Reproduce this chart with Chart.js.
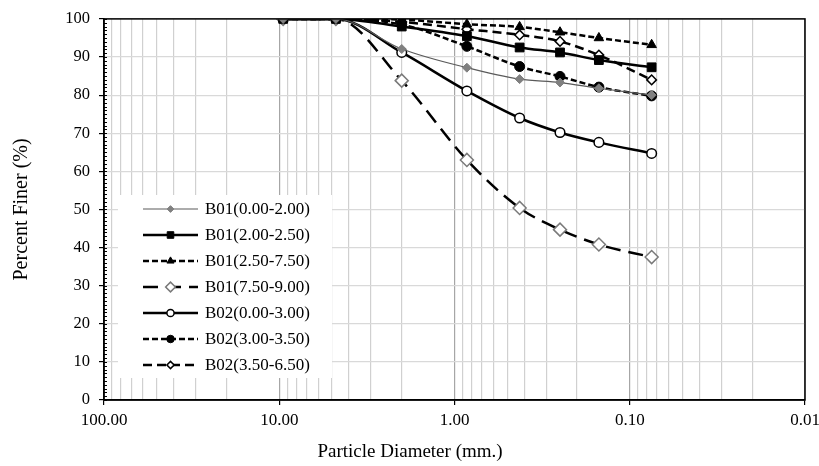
<!DOCTYPE html>
<html>
<head>
<meta charset="utf-8">
<script src="https://cdn.jsdelivr.net/npm/chart.js@4/dist/chart.umd.min.js"></script>
<style>
  body { margin: 0; background: #fff; }
  #wrap { width: 819px; height: 466px; position: relative; }
</style>
</head>
<body>
<div id="wrap"><canvas id="chart"></canvas></div>
<script>
// Sieve sizes (mm) and percent finer for each sample
const sieveSizes = [9.5, 4.75, 2.0, 0.85, 0.425, 0.25, 0.15, 0.075];

const b01_000_200 = [100, 100, 92.1, 87.2, 84.2, 83.3, 81.8, 80.0];
const b01_200_250 = [100, 100, 98.0, 95.5, 92.5, 91.2, 89.2, 87.3];
const b01_250_750 = [100, 100, 99.8, 98.6, 97.9, 96.5, 95.0, 93.2];
const b01_750_900 = [100, 100, 83.8, 63.0, 50.4, 44.7, 40.8, 37.5];
const b02_000_300 = [100, 100, 91.2, 81.1, 74.0, 70.2, 67.6, 64.7];
const b02_300_350 = [100, 100, 98.5, 92.8, 87.5, 84.9, 82.1, 79.8];
const b02_350_650 = [100, 100, 99.2, 97.3, 95.8, 94.1, 90.5, 84.0];

const seriesNames = ['B01(0.00-2.00)', 'B01(2.00-2.50)', 'B01(2.50-7.50)', 'B01(7.50-9.00)',
                     'B02(0.00-3.00)', 'B02(3.00-3.50)', 'B02(3.50-6.50)'];

// Axis ticks
const xMajorTicks = [100, 10, 1, 0.1, 0.01];
const xTickLabels = ['100.00', '10.00', '1.00', '0.10', '0.01'];
const yTicks = [0, 10, 20, 30, 40, 50, 60, 70, 80, 90, 100];
const xTitle = 'Particle Diameter (mm.)';

const FONT = "'Liberation Serif', 'Times New Roman', serif";

function toPoints(values) {
    return sieveSizes.map((d, i) => ({ x: d, y: values[i] }));
}

function series(label, values, style) {
    return Object.assign({
        label: label,
        data: toPoints(values),
        borderColor: '#000',
        backgroundColor: '#000',
        pointBorderColor: '#000',
        pointBackgroundColor: '#000',
        borderWidth: 2.5,
        pointBorderWidth: 1,
        cubicInterpolationMode: 'monotone',
        fill: false
    }, style);
}

const datasets = [
    series(seriesNames[0], b01_000_200, {
        borderColor: '#5a5a5a', borderWidth: 1.2,
        pointStyle: 'rectRot', pointRadius: 4.5,
        pointBackgroundColor: '#808080', pointBorderColor: '#808080'
    }),
    series(seriesNames[1], b01_200_250, {
        pointStyle: 'rect', pointRadius: 6.2
    }),
    series(seriesNames[2], b01_250_750, {
        borderDash: [6, 3], pointStyle: 'triangle', pointRadius: 5.5
    }),
    series(seriesNames[3], b01_750_900, {
        borderDash: [15, 8], pointStyle: 'rectRot', pointRadius: 6.5,
        pointBackgroundColor: '#fff', pointBorderColor: '#7a7a7a', pointBorderWidth: 1.5
    }),
    series(seriesNames[4], b02_000_300, {
        pointStyle: 'circle', pointRadius: 4.8,
        pointBackgroundColor: '#fff', pointBorderWidth: 1.5
    }),
    series(seriesNames[5], b02_300_350, {
        borderDash: [6, 3], pointStyle: 'circle', pointRadius: 5
    }),
    series(seriesNames[6], b02_350_650, {
        borderDash: [9, 5], pointStyle: 'rectRot', pointRadius: 4.8,
        pointBackgroundColor: '#fff', pointBorderWidth: 1.5
    })
];

// Legend box drawn inside the plot, frame, minor y ticks and x title
const extrasPlugin = {
    id: 'extras',
    afterDatasetsDraw(chart) {
        const ctx = chart.ctx;
        const area = chart.chartArea;
        const yScale = chart.scales.y;

        // minor y ticks (inside)
        ctx.save();
        ctx.strokeStyle = '#000';
        ctx.lineWidth = 1;
        for (let v = 0; v <= 100; v += 1) {
            const py = Math.round(yScale.getPixelForValue(v)) + 0.5;
            ctx.beginPath();
            ctx.moveTo(area.left, py);
            ctx.lineTo(area.left + 3, py);
            ctx.stroke();
        }
        ctx.restore();

        // legend
        ctx.save();
        ctx.fillStyle = '#fff';
        ctx.fillRect(118, 195, 214, 183);
        chart.data.datasets.forEach((ds, i) => {
            const y = 209 + i * 26;
            ctx.save();
            ctx.strokeStyle = ds.borderColor;
            ctx.lineWidth = ds.borderWidth;
            ctx.setLineDash(ds.borderDash || []);
            ctx.beginPath();
            ctx.moveTo(143, y);
            ctx.lineTo(198, y);
            ctx.stroke();
            ctx.setLineDash([]);
            ctx.fillStyle = ds.pointBackgroundColor;
            ctx.strokeStyle = ds.pointBorderColor;
            ctx.lineWidth = ds.pointBorderWidth;
            Chart.helpers.drawPoint(ctx, {
                pointStyle: ds.pointStyle,
                rotation: 0,
                radius: ds.pointRadius * 0.75,
                borderWidth: ds.pointBorderWidth
            }, 170.5, y);
            ctx.restore();
            ctx.fillStyle = '#000';
            ctx.font = '17px ' + FONT;
            ctx.textBaseline = 'middle';
            ctx.fillText(ds.label, 205, y + 1);
        });
        ctx.restore();
    },
    afterDraw(chart) {
        const ctx = chart.ctx;
        const a = chart.chartArea;
        ctx.save();
        ctx.strokeStyle = '#000';
        ctx.lineWidth = 1.5;
        ctx.strokeRect(a.left, a.top, a.right - a.left, a.bottom - a.top);
        ctx.fillStyle = '#000';
        ctx.font = '19px ' + FONT;
        ctx.textAlign = 'center';
        ctx.textBaseline = 'middle';
        ctx.fillText(xTitle, 410, 452);
        ctx.restore();
    }
};

new Chart(document.getElementById('chart'), {
    type: 'line',
    data: { datasets: datasets },
    plugins: [extrasPlugin],
    options: {
        responsive: true,
        maintainAspectRatio: false,
        animation: false,
        layout: { padding: { left: 0, right: 14, top: 17, bottom: 0 } },
        plugins: {
            legend: { display: false },
            tooltip: { enabled: false }
        },
        scales: {
            x: {
                type: 'logarithmic',
                reverse: true,
                min: 0.01,
                max: 100,
                afterBuildTicks(scale) {
                    const ticks = [];
                    xMajorTicks.forEach(m => {
                        for (let k = 1; k <= 9; k++) {
                            const v = +(m * k).toPrecision(6);
                            if (v >= 0.01 && v <= 100) ticks.push({ value: v, major: k === 1 });
                        }
                    });
                    scale.ticks = ticks;
                },
                afterFit(scale) { scale.height = 66; },
                ticks: {
                    autoSkip: false,
                    maxRotation: 0,
                    padding: 5,
                    color: '#000',
                    font: { family: FONT, size: 17 },
                    callback(value) {
                        const idx = xMajorTicks.findIndex(m => Math.abs(m - value) < m * 1e-6);
                        return idx >= 0 ? xTickLabels[idx] : '';
                    }
                },
                grid: {
                    color: ctx => (ctx.tick && ctx.tick.major) ? '#a6a6a6' : '#d0d0d0',
                    tickColor: ctx => (ctx.tick && ctx.tick.major) ? '#000' : 'rgba(0,0,0,0)',
                    tickLength: 5,
                    lineWidth: 1.2
                },
                border: { color: '#000', width: 1.5 },
                title: { display: false }
            },
            y: {
                min: 0,
                max: 100,
                afterBuildTicks(scale) {
                    scale.ticks = yTicks.map(v => ({ value: v }));
                },
                afterFit(scale) { scale.width = 104; },
                ticks: {
                    padding: 9,
                    color: '#000',
                    font: { family: FONT, size: 16.5 }
                },
                grid: {
                    color: '#d9d9d9',
                    tickColor: '#000',
                    tickLength: 5,
                    lineWidth: 1.2
                },
                border: { color: '#000', width: 1.5 },
                title: {
                    display: true,
                    text: 'Percent Finer (%)',
                    color: '#000',
                    font: { family: FONT, size: 20 },
                    padding: { top: 10, bottom: 0 }
                }
            }
        }
    }
});
</script>
</body>
</html>
